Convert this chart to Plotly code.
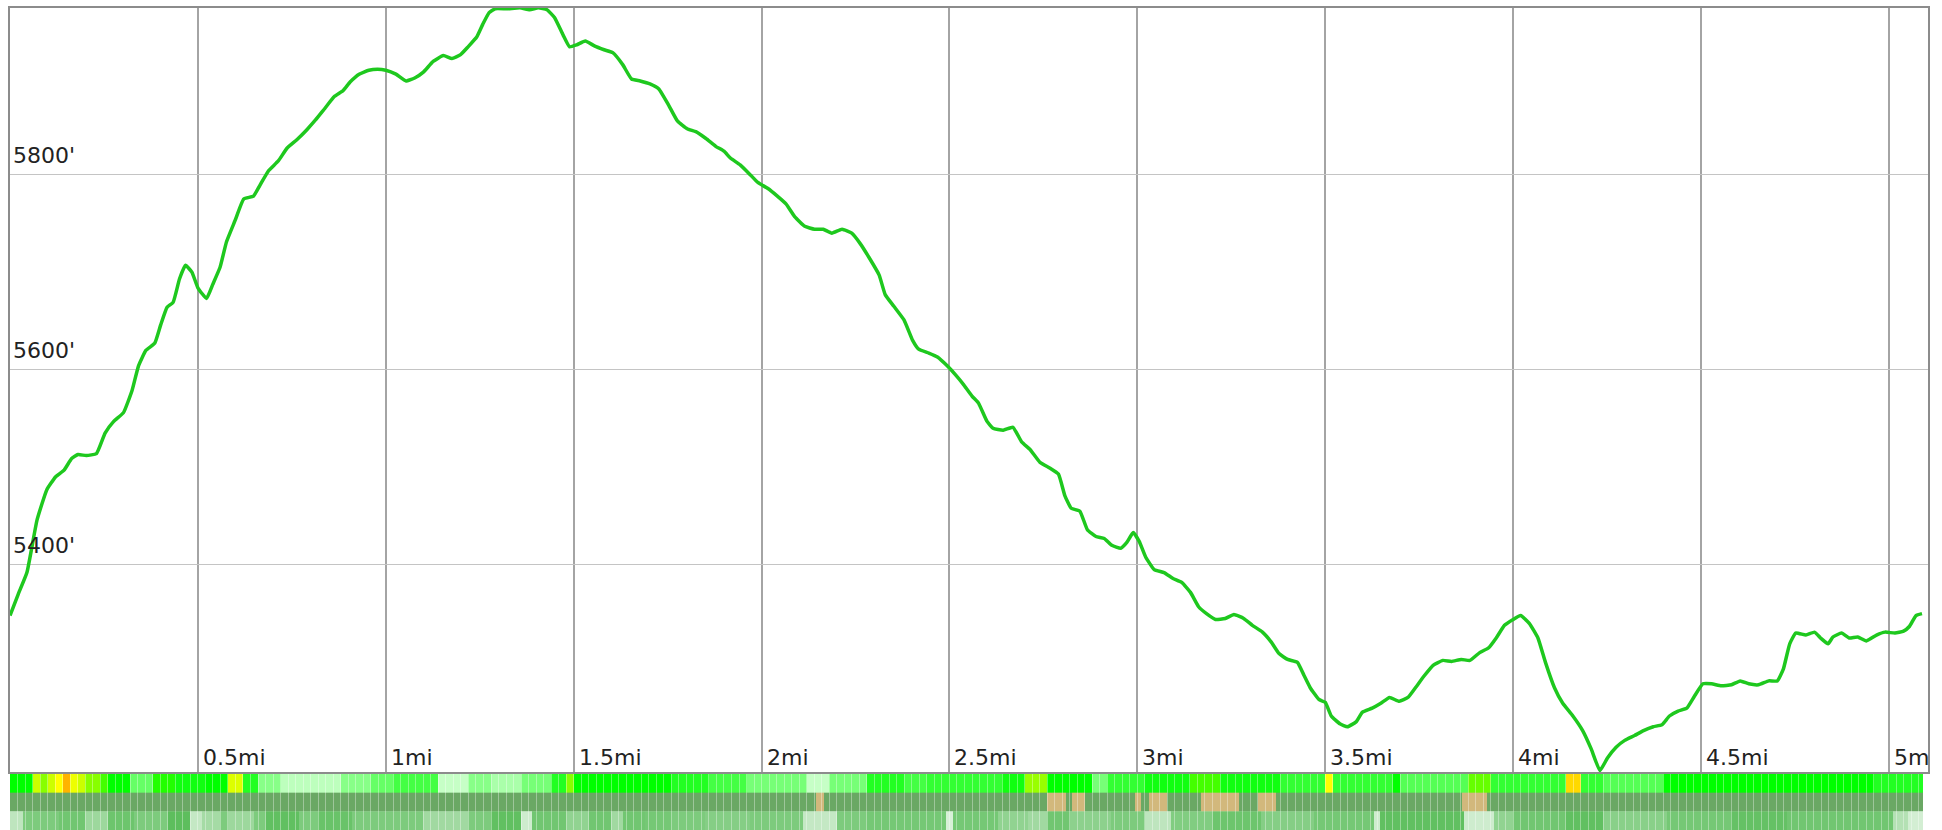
import plotly.graph_objects as go

# ---------------- data ----------------
miles = [0, 0.022, 0.045, 0.072, 0.098, 0.121, 0.144, 0.164, 0.181, 0.203, 0.23, 0.253, 0.276, 0.302,
         0.325, 0.342, 0.362, 0.385, 0.401, 0.418, 0.434, 0.451, 0.467, 0.484, 0.5, 0.523, 0.539, 0.559,
         0.576, 0.599, 0.622, 0.648, 0.665, 0.688, 0.714, 0.737, 0.764, 0.79, 0.813, 0.836, 0.863, 0.886,
         0.905, 0.929, 0.955, 0.978, 1.0, 1.027, 1.054, 1.077, 1.1, 1.126, 1.153, 1.176, 1.199, 1.219,
         1.242, 1.258, 1.275, 1.291, 1.324, 1.357, 1.383, 1.406, 1.429, 1.449, 1.472, 1.489, 1.508, 1.531,
         1.555, 1.581, 1.604, 1.63, 1.654, 1.677, 1.703, 1.726, 1.753, 1.776, 1.802, 1.825, 1.852, 1.878,
         1.9, 1.917, 1.943, 1.967, 1.99, 2.016, 2.042, 2.065, 2.088, 2.115, 2.141, 2.164, 2.187, 2.214,
         2.24, 2.263, 2.286, 2.313, 2.329, 2.352, 2.379, 2.402, 2.418, 2.445, 2.468, 2.494, 2.518, 2.537,
         2.56, 2.577, 2.6, 2.616, 2.643, 2.669, 2.692, 2.715, 2.741, 2.768, 2.79, 2.807, 2.824, 2.847,
         2.867, 2.89, 2.912, 2.932, 2.956, 2.972, 2.989, 3.005, 3.022, 3.045, 3.071, 3.095, 3.118, 3.141,
         3.163, 3.184, 3.208, 3.234, 3.257, 3.283, 3.306, 3.333, 3.356, 3.377, 3.4, 3.426, 3.443, 3.46,
         3.483, 3.5, 3.516, 3.539, 3.559, 3.582, 3.599, 3.625, 3.648, 3.671, 3.697, 3.72, 3.74, 3.763,
         3.787, 3.813, 3.836, 3.862, 3.885, 3.911, 3.935, 3.955, 3.977, 4.0, 4.02, 4.043, 4.066, 4.086,
         4.11, 4.132, 4.159, 4.185, 4.208, 4.231, 4.251, 4.274, 4.297, 4.323, 4.347, 4.373, 4.396, 4.416,
         4.439, 4.462, 4.482, 4.505, 4.528, 4.554, 4.581, 4.604, 4.627, 4.653, 4.68, 4.703, 4.719, 4.736,
         4.752, 4.779, 4.802, 4.818, 4.838, 4.851, 4.874, 4.894, 4.917, 4.94, 4.967, 4.99, 5.016, 5.039,
         5.055, 5.072, 5.088]

elevation_ft = [5348, 5370, 5392, 5446, 5477, 5490, 5497, 5509, 5513, 5512, 5514, 5535, 5547, 5556,
                5579, 5604, 5620, 5627, 5646, 5664, 5669, 5693, 5707, 5700, 5684, 5673, 5687, 5705,
                5731, 5753, 5775, 5778, 5789, 5804, 5814, 5827, 5836, 5846, 5856, 5867, 5880, 5886,
                5895, 5903, 5907, 5908, 5907, 5903, 5896, 5899, 5905, 5916, 5922, 5919, 5923, 5931,
                5941, 5954, 5966, 5970, 5970, 5971, 5969, 5971, 5969, 5961, 5943, 5931, 5933, 5937,
                5932, 5928, 5925, 5913, 5898, 5896, 5893, 5888, 5871, 5855, 5847, 5844, 5837, 5829,
                5824, 5817, 5810, 5801, 5792, 5786, 5778, 5770, 5757, 5747, 5744, 5744, 5740, 5744,
                5740, 5729, 5715, 5697, 5677, 5665, 5651, 5630, 5621, 5617, 5613, 5604, 5594, 5585,
                5573, 5566, 5547, 5540, 5538, 5541, 5526, 5518, 5505, 5499, 5493, 5471, 5458, 5455,
                5436, 5429, 5427, 5420, 5417, 5423, 5433, 5424, 5408, 5395, 5392, 5386, 5382, 5372,
                5357, 5350, 5344, 5345, 5349, 5345, 5338, 5331, 5321, 5309, 5303, 5300, 5287, 5274,
                5262, 5259, 5245, 5237, 5234, 5239, 5249, 5253, 5258, 5264, 5260, 5264, 5274, 5286,
                5297, 5302, 5301, 5303, 5302, 5310, 5315, 5325, 5338, 5344, 5348, 5340, 5325, 5300,
                5274, 5258, 5245, 5230, 5211, 5189, 5202, 5213, 5220, 5225, 5230, 5234, 5236, 5245,
                5250, 5253, 5265, 5278, 5278, 5276, 5277, 5281, 5278, 5277, 5281, 5281, 5293, 5319,
                5330, 5328, 5331, 5325, 5319, 5326, 5330, 5325, 5326, 5322, 5328, 5331, 5330, 5332,
                5337, 5348, 5350]

x_tick_values = [0.5, 1, 1.5, 2, 2.5, 3, 3.5, 4, 4.5, 5]
x_tick_labels = ["0.5mi", "1mi", "1.5mi", "2mi", "2.5mi", "3mi", "3.5mi", "4mi", "4.5mi", "5mi"]
y_tick_values = [5400, 5600, 5800]
y_tick_labels = ["5400'", "5600'", "5800'"]

# strip 1: grade-like values per segment (segment edges in miles)
grade_edges = [0, 0.06, 0.08, 0.10, 0.12, 0.14, 0.16, 0.18, 0.20, 0.24, 0.26, 0.32, 0.38, 0.44, 0.52,
               0.58, 0.62, 0.66, 0.72, 0.88, 0.96, 1.02, 1.14, 1.22, 1.28, 1.36, 1.44, 1.48, 1.50, 1.76,
               1.86, 1.96, 2.12, 2.18, 2.28, 2.38, 2.44, 2.64, 2.70, 2.76, 2.78, 2.88, 2.92, 3.02, 3.14,
               3.22, 3.38, 3.50, 3.52, 3.68, 3.70, 3.88, 3.94, 4.14, 4.18, 4.24, 4.40, 4.72, 4.96, 5.09]
grade_values = [8, 12, 10, 12, 15, 19, 14, 12, 10, 9, 8, 5, 8.5, 7.5, 8, 13, 7, 4, 2, 4, 5, 6, 1.5, 4,
                3, 4.5, 7, 10, 8, 7, 6, 4.5, 1.5, 4.5, 7, 6, 6.5, 7.5, 10.5, 8, 8, 4.5, 6.5, 7.5, 9,
                7.5, 6.5, 15, 6.5, 8, 5.5, 9.5, 6.5, 17, 6.5, 5.5, 8, 8, 7]

# strip 2: surface category (0 = green, 1 = tan)
surface_edges = [0, 2.145, 2.165, 2.76, 2.81, 2.825, 2.86, 2.995, 3.01, 3.03, 3.08, 3.17, 3.27, 3.32,
                 3.37, 3.865, 3.93, 5.09]
surface_values = [0, 1, 0, 1, 0, 1, 0, 1, 0, 1, 0, 1, 0, 1, 0, 1, 0]

# strip 3: shade level per segment
shade_edges = [0, 0.035, 0.13, 0.2, 0.26, 0.33, 0.42, 0.48, 0.51, 0.56, 0.58, 0.65, 0.68, 0.77, 0.82,
               0.91, 1.10, 1.22, 1.28, 1.36, 1.39, 1.48, 1.54, 1.60, 1.63, 1.69, 1.76, 1.85, 1.97, 2.11,
               2.20, 2.28, 2.49, 2.51, 2.55, 2.63, 2.71, 2.76, 2.82, 2.93, 3.02, 3.09, 3.20, 3.33, 3.39,
               3.47, 3.63, 3.645, 3.87, 3.95, 4.0, 4.14, 4.24, 4.41, 4.58, 4.73, 5.01, 5.05, 5.09]
shade_values = [2.5, 1.0, 0.7, 1.8, 0.6, 1.0, 0.2, 2.6, 2.0, 1.0, 1.8, 1.0, 0.3, 1.0, 0.5, 1.0, 1.9,
                1.0, 0.3, 2.8, 0.7, 1.5, 0.7, 1.9, 0.7, 0.8, 1.0, 1.2, 1.0, 2.6, 1.0, 0.8, 3.0, 0.8,
                0.8, 1.5, 1.9, 0.7, 1.4, 1.0, 2.5, 1.1, 0.6, 1.2, 1.2, 0.8, 2.8, 0.3, 2.8, 1.5, 0.7,
                0.3, 1.3, 0.8, 0.4, 0.7, 2.3, 2.9]

# ---------------- figure ----------------
X_RANGE = [0, 5.104]
Y_RANGE = [5187.6, 5970.8]
FONT = "DejaVu Sans"
LABEL_SIZE = 22

fig = go.Figure()

# strips (heatmaps)
fig.add_trace(go.Heatmap(
    x=grade_edges, y=[2, 3], z=[grade_values], xaxis="x2", yaxis="y2",
    zmin=0, zmax=20, showscale=False, hoverinfo="skip",
    colorscale=[[0, "#e2ffe2"], [0.15, "#aaffaa"], [0.3, "#44ff44"], [0.4, "#00ff00"],
                [0.5, "#88ff00"], [0.6, "#ccff00"], [0.75, "#ffff00"], [1, "#ffa000"]]))
fig.add_trace(go.Heatmap(
    x=surface_edges, y=[1, 2], z=[surface_values], xaxis="x2", yaxis="y2",
    zmin=0, zmax=1, showscale=False, hoverinfo="skip",
    colorscale=[[0, "#6aa864"], [1, "#d2b87c"]]))
fig.add_trace(go.Heatmap(
    x=shade_edges, y=[0, 1], z=[shade_values], xaxis="x2", yaxis="y2",
    zmin=0, zmax=3, showscale=False, hoverinfo="skip",
    colorscale=[[0, "#55bb55"], [0.333, "#7dcb7d"], [0.667, "#a5dba5"], [1, "#d8f0d8"]]))

# elevation line
fig.add_trace(go.Scatter(
    x=miles, y=elevation_ft, mode="lines",
    line=dict(color="#1ec81e", width=3.5, shape="spline", smoothing=0.4),
    hoverinfo="skip", showlegend=False))

# tick labels inside the plot area
annotations = []
for v, t in zip(x_tick_values, x_tick_labels):
    annotations.append(dict(x=v, y=Y_RANGE[0], xref="x", yref="y", text=t, showarrow=False,
                            xanchor="left", yanchor="bottom", xshift=3, yshift=0,
                            font=dict(family=FONT, size=LABEL_SIZE, color="#222222")))
for v, t in zip(y_tick_values, y_tick_labels):
    annotations.append(dict(x=X_RANGE[0], y=v, xref="x", yref="y", text=t, showarrow=False,
                            xanchor="left", yanchor="bottom", xshift=1, yshift=5,
                            font=dict(family=FONT, size=LABEL_SIZE, color="#222222")))

W = 1930
H = 830
TOP = 8
plot_h = H - TOP
main_bottom = 58 / plot_h
strip_top = 56 / plot_h

fig.update_layout(
    width=W, height=H,
    margin=dict(l=10, r=2, t=TOP, b=0, pad=0),
    paper_bgcolor="white", plot_bgcolor="white",
    showlegend=False,
    font=dict(family=FONT, size=LABEL_SIZE, color="#222222"),
    annotations=annotations,
    xaxis=dict(range=X_RANGE, domain=[0, 1], anchor="y",
               tickvals=x_tick_values, showticklabels=False, ticks="",
               showgrid=True, gridcolor="#a4a4a4", gridwidth=2,
               zeroline=False, showline=True, mirror=True,
               linecolor="#8c8c8c", linewidth=2, fixedrange=True),
    yaxis=dict(range=Y_RANGE, domain=[main_bottom, 1], anchor="x",
               tickvals=y_tick_values, showticklabels=False, ticks="",
               showgrid=True, gridcolor="#c4c4c4", gridwidth=1,
               zeroline=False, showline=True, mirror=True,
               linecolor="#8c8c8c", linewidth=2, fixedrange=True),
    xaxis2=dict(range=X_RANGE, domain=[0, 1], anchor="y2",
                showgrid=False, zeroline=False, showline=False,
                ticks="inside", ticklen=56, tickwidth=1,
                tickcolor="rgba(255,255,255,0.35)", tick0=0, dtick=0.02,
                showticklabels=False, layer="above traces", fixedrange=True),
    yaxis2=dict(range=[0, 3], domain=[0, strip_top], anchor="x2",
                visible=False, fixedrange=True),
)

fig.write_html(
    "out.html",
    config={"displayModeBar": False, "staticPlot": True},
    post_script="document.body.style.margin='0px';document.body.style.overflow='hidden';",
)
